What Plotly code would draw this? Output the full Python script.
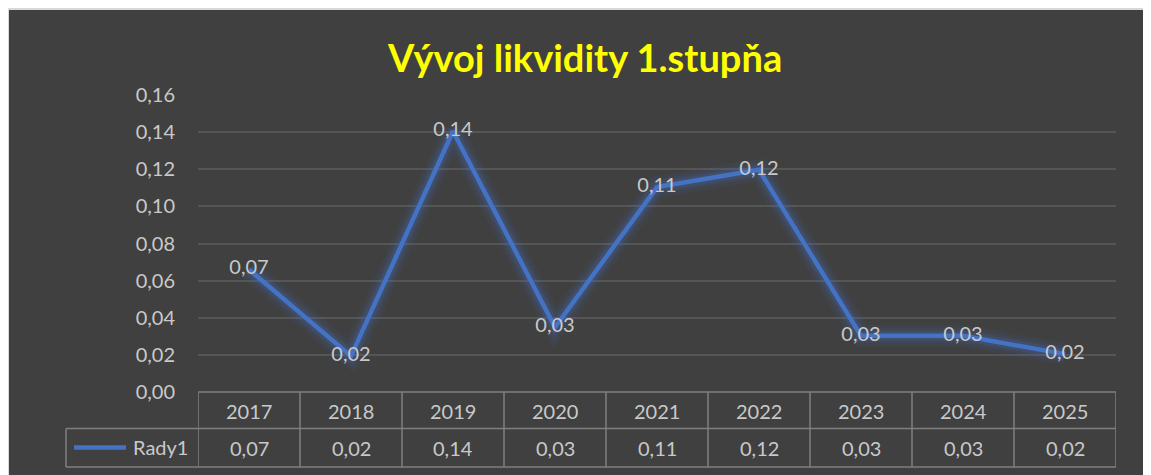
import plotly.graph_objects as go

title_text = "Vývoj likvidity 1.stupňa"
years = ["2017", "2018", "2019", "2020", "2021", "2022", "2023", "2024", "2025"]
values = [0.066, 0.0193, 0.1405, 0.0349, 0.1104, 0.1197, 0.0303, 0.0303, 0.0204]
series_name = "Rady1"
y_ticks = [0.00, 0.02, 0.04, 0.06, 0.08, 0.10, 0.12, 0.14, 0.16]

BG = "#404040"
LINE = "#4472C4"
TXT = "#c9c9c9"
GRID = "#555555"
TBL = "#7f7f7f"
FONT = "Lato"

OFF = 8  # page body margin
W, H = 1151 - OFF, 475 - OFF
# screen coordinates of plot area
L, R = 198, 1116
TOP, BOT = 95, 392
PH = BOT - TOP
PW = R - L


def py(p):
    return (BOT - p) / PH


def px(p):
    return (p - L) / PW


def fmt(v):
    return f"{v:.2f}".replace(".", ",")


xs = list(range(len(years)))
fig = go.Figure()

# glow layers
for w, a in [(22, 0.07), (15, 0.11), (10, 0.17)]:
    fig.add_trace(go.Scatter(x=xs, y=values, mode="lines",
                             line=dict(color=f"rgba(68,114,196,{a})", width=w),
                             hoverinfo="skip", showlegend=False))

fig.add_trace(go.Scatter(
    x=xs, y=values, mode="lines+text", name=series_name,
    line=dict(color=LINE, width=4.5),
    text=[fmt(v) for v in values], textposition="middle center",
    textfont=dict(family=FONT, size=20, color=TXT),
    showlegend=False, cliponaxis=False))

shapes = []
# outer dark chart area with light border
shapes.append(dict(type="rect", xref="paper", yref="paper",
                   x0=px(8), x1=px(1180), y0=py(500), y1=py(9),
                   fillcolor=BG, line=dict(color="#d9d9d9", width=2), layer="below"))

# table horizontal lines
shapes.append(dict(type="line", xref="x", yref="paper", x0=-0.5, x1=len(years) - 0.5,
                   y0=py(392), y1=py(392), line=dict(color=TBL, width=1.5)))
shapes.append(dict(type="line", xref="paper", yref="paper", x0=px(66), x1=px(R),
                   y0=py(428.5), y1=py(428.5), line=dict(color=TBL, width=1.5)))
shapes.append(dict(type="line", xref="paper", yref="paper", x0=px(66), x1=px(R),
                   y0=py(467), y1=py(467), line=dict(color=TBL, width=1.5)))
# vertical lines
for i in range(len(years) + 1):
    shapes.append(dict(type="line", xref="x", yref="paper", x0=i - 0.5, x1=i - 0.5,
                       y0=py(392), y1=py(467), line=dict(color=TBL, width=1.5)))
shapes.append(dict(type="line", xref="paper", yref="paper", x0=px(66), x1=px(66),
                   y0=py(428.5), y1=py(467), line=dict(color=TBL, width=1.5)))
# legend line sample
shapes.append(dict(type="line", xref="paper", yref="paper", x0=px(74), x1=px(126),
                   y0=py(447.5), y1=py(447.5), line=dict(color=LINE, width=4.5)))

annotations = []
annotations.append(dict(text=f"<b>{title_text}</b>", xref="paper", yref="paper",
                        x=px(584), y=py(57), showarrow=False,
                        font=dict(family=FONT, size=38, color="#FFFF00"),
                        xanchor="center", yanchor="middle"))
for i, (yr, v) in enumerate(zip(years, values)):
    annotations.append(dict(text=yr, xref="x", yref="paper", x=i, y=py(410.5),
                            showarrow=False, font=dict(family=FONT, size=20, color=TXT),
                            xanchor="center", yanchor="middle"))
    annotations.append(dict(text=fmt(v), xref="x", yref="paper", x=i, y=py(448),
                            showarrow=False, font=dict(family=FONT, size=20, color=TXT),
                            xanchor="center", yanchor="middle"))
annotations.append(dict(text=series_name, xref="paper", yref="paper", x=px(131), y=py(447),
                        showarrow=False, font=dict(family=FONT, size=20, color=TXT),
                        xanchor="left", yanchor="middle"))

fig.update_layout(
    width=W, height=H,
    margin=dict(l=L - OFF, r=W - (R - OFF), t=TOP - OFF, b=H - (BOT - OFF), pad=0),
    paper_bgcolor="white", plot_bgcolor="rgba(0,0,0,0)",
    separators=", ",
    shapes=shapes, annotations=annotations,
    font=dict(family=FONT, color=TXT),
    xaxis=dict(range=[-0.5, len(years) - 0.5], showticklabels=False, showgrid=False,
               zeroline=False, showline=False, fixedrange=True),
    yaxis=dict(range=[0, 0.16], tickvals=y_ticks,
               ticktext=[fmt(t) for t in y_ticks],
               tickmode="array", showgrid=True, gridcolor=GRID, gridwidth=1.5,
               zeroline=False, showline=False, ticks="", ticklabelstandoff=22,
               tickfont=dict(family=FONT, size=20, color=TXT), fixedrange=True),
)

fig.write_html("out.html")
